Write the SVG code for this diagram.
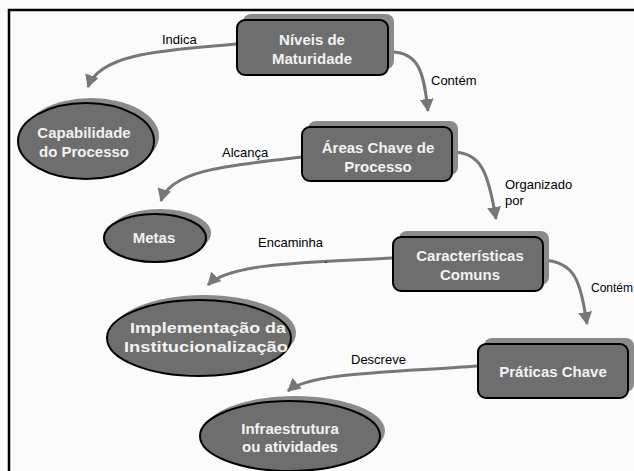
<svg xmlns="http://www.w3.org/2000/svg" width="634" height="471" viewBox="0 0 634 471">
<defs>
<marker id="ah" markerUnits="userSpaceOnUse" markerWidth="16" markerHeight="16" refX="12" refY="7" orient="auto">
<path d="M0,0 L13,7 L0,14 z" fill="#777"/>
</marker>
<style>
.bg{fill:#fbfbfb}
.frame{stroke:#000;stroke-width:2.5;fill:none}
.sh{fill:#8a8a8a}
.nd{fill:#6e6e6e;stroke:#000;stroke-width:2}
.nt{font-family:"Liberation Sans",Arial,sans-serif;font-weight:bold;font-size:15px;fill:#f2f2f2;text-anchor:middle}
.lb{font-family:"Liberation Sans",Arial,sans-serif;font-size:13px;fill:#000}
.cn{fill:none;stroke:#777;stroke-width:3;marker-end:url(#ah)}
</style>
</defs>
<rect class="bg" x="0" y="0" width="634" height="471"/>
<path class="frame" d="M9,471 V10 H634"/>

<g id="connectors">
<path class="cn" d="M237,44 C170,50 100,52 88,87"/>
<path class="cn" d="M388,52 C420,50 424,75 428,111"/>
<path class="cn" d="M302,157 C230,165 170,170 161,201"/>
<path class="cn" d="M452,152 C480,152 488,170 496,219"/>
<path class="cn" d="M393,258 C320,262 230,262 208,285"/>
<path class="cn" d="M543,260 C575,262 580,280 587,324"/>
<path class="cn" d="M478,366 C400,372 310,372 288,391"/>
</g>

<g id="labels">
<text class="lb" x="162" y="44">Indica</text>
<text class="lb" x="431" y="85">Contém</text>
<text class="lb" x="222" y="157">Alcança</text>
<text class="lb" x="505" y="189">Organizado</text>
<text class="lb" x="505" y="205">por</text>
<text class="lb" x="258" y="247">Encaminha</text>
<text class="lb" x="324" y="263">.</text>
<text class="lb" x="591" y="292" style="font-size:12px">Contém</text>
<text class="lb" x="351" y="364">Descreve</text>
</g>

<g id="n-niveis">
<rect class="sh" x="243" y="14" width="151" height="55" rx="8"/>
<rect class="nd" x="237" y="20" width="151" height="55" rx="8"/>
<text class="nt" x="312" y="45">Níveis de</text>
<text class="nt" x="312" y="64">Maturidade</text>
</g>

<g id="n-capabilidade">
<ellipse class="sh" cx="91" cy="136" rx="68" ry="38"/>
<ellipse class="nd" cx="86" cy="141" rx="68" ry="38"/>
<text class="nt" x="84" y="138">Capabilidade</text>
<text class="nt" x="84" y="157">do Processo</text>
</g>

<g id="n-areas">
<rect class="sh" x="308" y="121" width="150" height="54" rx="8"/>
<rect class="nd" x="302" y="127" width="150" height="54" rx="8"/>
<text class="nt" x="378" y="153">Áreas Chave de</text>
<text class="nt" x="378" y="172">Processo</text>
</g>

<g id="n-metas">
<ellipse class="sh" cx="160" cy="233" rx="51" ry="24"/>
<ellipse class="nd" cx="155" cy="238" rx="51" ry="24"/>
<text class="nt" x="154" y="243">Metas</text>
</g>

<g id="n-caracteristicas">
<rect class="sh" x="399" y="231" width="150" height="54" rx="8"/>
<rect class="nd" x="393" y="237" width="150" height="54" rx="8"/>
<text class="nt" x="470" y="261">Características</text>
<text class="nt" x="470" y="280">Comuns</text>
</g>

<g id="n-implementacao">
<ellipse class="sh" cx="204" cy="333" rx="92" ry="38"/>
<ellipse class="nd" cx="199" cy="338" rx="92" ry="38"/>
<text class="nt" x="208" y="333" textLength="156" lengthAdjust="spacingAndGlyphs">Implementação da</text>
<text class="nt" x="206" y="352" textLength="164" lengthAdjust="spacingAndGlyphs">Institucionalização</text>
</g>

<g id="n-praticas">
<rect class="sh" x="484" y="338" width="150" height="54" rx="8"/>
<rect class="nd" x="478" y="344" width="150" height="54" rx="8"/>
<text class="nt" x="553" y="377">Práticas Chave</text>
</g>

<g id="n-infra">
<ellipse class="sh" cx="295" cy="431" rx="90" ry="35"/>
<ellipse class="nd" cx="290" cy="436" rx="90" ry="35"/>
<text class="nt" x="290" y="434">Infraestrutura</text>
<text class="nt" x="290" y="452">ou atividades</text>
</g>
</svg>
